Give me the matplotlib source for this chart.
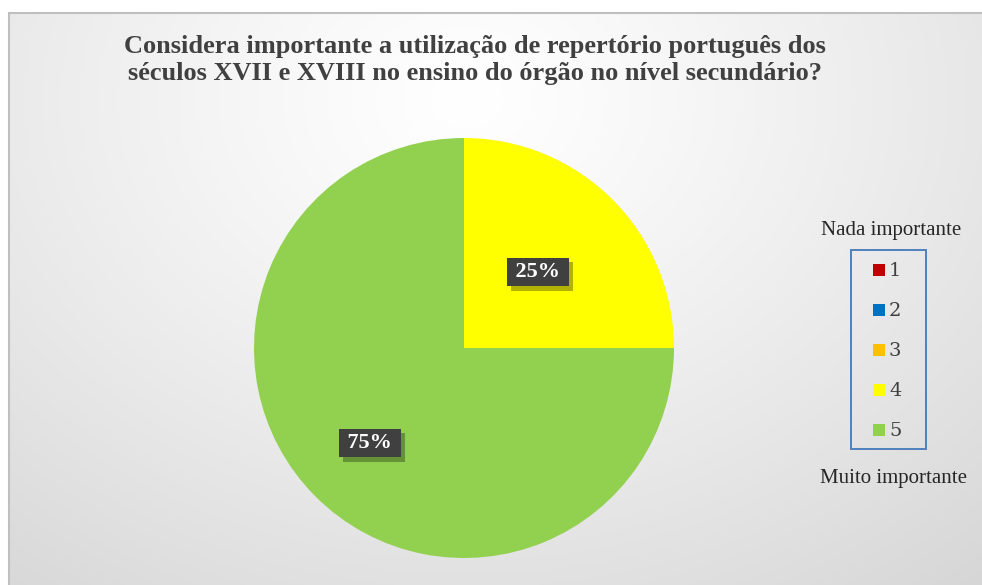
import matplotlib
matplotlib.use("Agg")
import matplotlib.pyplot as plt
import numpy as np
from matplotlib.patches import Rectangle
import matplotlib.patheffects as pe

categories = ["1", "2", "3", "4", "5"]
values = [0, 0, 0, 25, 75]
colors = ["#C00000", "#0070C0", "#FFC000", "#FFFF00", "#92D050"]
title = "Considera importante a utilização de repertório português dos\nséculos XVII e XVIII no ensino do órgão no nível secundário?"
legend_top = "Nada importante"
legend_bottom = "Muito importante"

W, H = 982, 585
fig = plt.figure(figsize=(W / 100, H / 100), dpi=100)
fig.patch.set_facecolor("white")

# background panel with radial gradient
bx0, by0 = 9, 13
bg = fig.add_axes([bx0 / W, 0, 1 - bx0 / W, 1 - by0 / H])
bg.set_axis_off()
ny, nx = 300, 500
yy, xx = np.mgrid[0:ny, 0:nx]
cx, cy = nx * 0.47, ny * 0.15
d = np.sqrt(((xx - cx) / nx) ** 2 + ((yy - cy) / ny * 0.75) ** 2)
d = d / d.max()
v = 1.0 - 0.16 * np.clip(d, 0, 1) ** 1.2
img = np.dstack([v, v, v])
bg.imshow(img, extent=[0, 1, 0, 1], aspect="auto", origin="upper")
bg.set_xlim(0, 1)
bg.set_ylim(0, 1)
bg.add_patch(Rectangle((0, -0.2), 1.2, 1.2, fill=False, edgecolor="#BFBFBF", lw=1.5,
                       transform=bg.transAxes, clip_on=False))

# pie axes
cxp, cyp, r = 464, 348, 210
ax = fig.add_axes([(cxp - r) / W, (H - cyp - r) / H, 2 * r / W, 2 * r / H])
ax.set_axis_off()
wedges, _ = ax.pie(values, colors=colors, startangle=90, counterclock=False,
                   radius=1.0, wedgeprops=dict(linewidth=0))
ax.set_xlim(-1, 1)
ax.set_ylim(-1, 1)

# data labels
label_pos = {3: ((538 - cxp) / r, (cyp - 272) / r), 4: ((370 - cxp) / r, (cyp - 443) / r)}
total = sum(values)
for i, (x, y) in label_pos.items():
    pct = f"{round(values[i] / total * 100)}%"
    ax.text(x, y, "\u2009" + pct + "\u2009", ha="center", va="center", color="white",
            fontsize=16, fontweight="bold", family=["Liberation Serif", "DejaVu Serif"],
            bbox=dict(boxstyle="square,pad=0.2", facecolor="#404040", edgecolor="none",
                      path_effects=[pe.withSimplePatchShadow(offset=(3, -3), shadow_rgbFace="#000000", alpha=0.3)]))

# title
fig.text(475 / W, 1 - 60 / H, title, ha="center", va="center", fontsize=19,
         fontweight="bold", family="Liberation Serif", color="#404040", linespacing=1.18)

# legend (drawn manually)
fig.text(891 / W, 1 - 231 / H, legend_top, ha="center", va="center",
         fontsize=15, family="Liberation Serif", color="#262626")
fig.text(894 / W, 1 - 478 / H, legend_bottom, ha="center", va="center",
         fontsize=15, family="Liberation Serif", color="#262626")
lx0, ly0, lx1, ly1 = 851, 250, 926, 449
fig.patches.append(Rectangle((lx0 / W, 1 - ly1 / H), (lx1 - lx0) / W, (ly1 - ly0) / H,
                             fill=False, edgecolor="#4F81BD", lw=1.4,
                             transform=fig.transFigure, figure=fig))
for k, (cat, col) in enumerate(zip(categories, colors)):
    yc = 270 + 40 * k
    fig.patches.append(Rectangle((873 / W, 1 - (yc + 6) / H), 12 / W, 12 / H,
                                 facecolor=col, edgecolor="none",
                                 transform=fig.transFigure, figure=fig))
    fig.text(889 / W, 1 - (yc + 1) / H, cat, ha="left", va="center",
             fontsize=14, family="DejaVu Serif", color="#404040")

fig.savefig("out.png", dpi=100)
